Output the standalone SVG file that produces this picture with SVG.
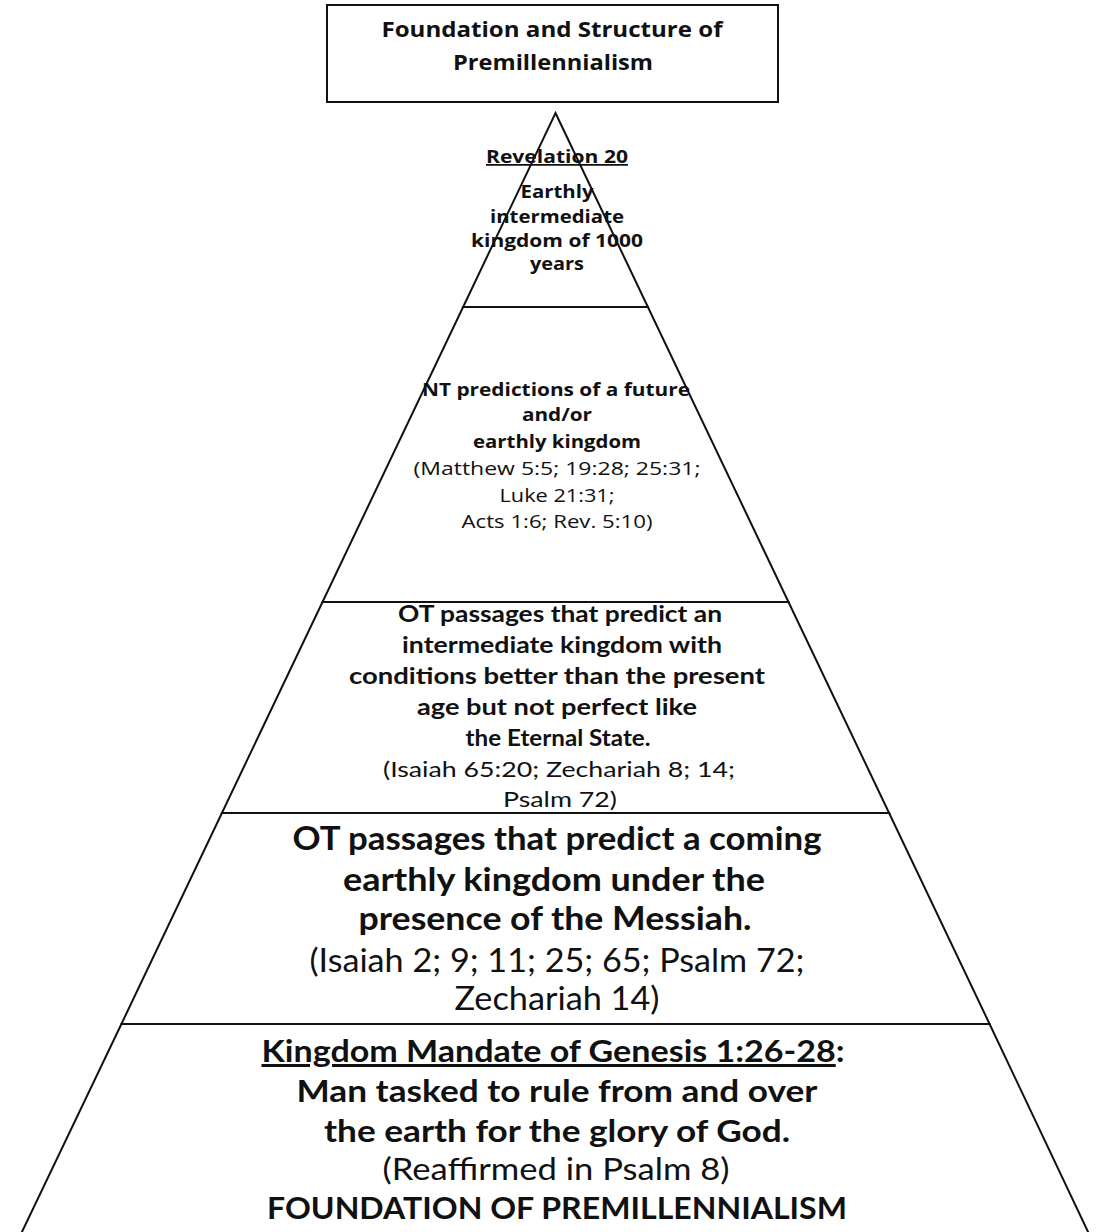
<svg xmlns="http://www.w3.org/2000/svg" width="1104" height="1232" viewBox="0 0 1104 1232">
<style>
.edge{fill:#fff;stroke:#111;stroke-width:2;stroke-linejoin:miter}
.t{fill:#111;text-anchor:middle}
.s{font-family:"Open Sans","DejaVu Sans",sans-serif}
.c{font-family:Lato,"Liberation Sans",sans-serif}
.b{font-weight:bold}
.r{font-weight:normal}
.u{text-decoration:underline}
</style>
<rect width="1104" height="1232" fill="#fff"/>
<g id="title">
<rect x="327" y="5" width="451" height="97" class="edge"/>
<text class="t s b" font-size="21.5" x="552" y="37" textLength="341" lengthAdjust="spacingAndGlyphs">Foundation and Structure of</text>
<text class="t s b" font-size="21.5" x="553" y="70" textLength="200" lengthAdjust="spacingAndGlyphs">Premillennialism</text>
</g>
<g id="layer-bottom">
<polygon class="edge" points="121.4,1024 989.6,1024 1090,1236 20,1236"/>
<text class="t c b" font-size="30" x="553" y="1062" textLength="583" lengthAdjust="spacingAndGlyphs"><tspan class="u">Kingdom Mandate of Genesis 1:26-28</tspan>:</text>
<text class="t c b" font-size="30" x="557" y="1102" textLength="521" lengthAdjust="spacingAndGlyphs">Man tasked to rule from and over</text>
<text class="t c b" font-size="30" x="557" y="1142" textLength="466" lengthAdjust="spacingAndGlyphs">the earth for the glory of God.</text>
<text class="t c r" font-size="30" x="556" y="1180" textLength="347" lengthAdjust="spacingAndGlyphs">(Reaffirmed in Psalm 8)</text>
<text class="t c b" font-size="30" x="557" y="1219" textLength="580" lengthAdjust="spacingAndGlyphs">FOUNDATION OF PREMILLENNIALISM</text>
</g>
<g id="layer-ot-coming">
<polygon class="edge" points="221.9,813 889.1,813 989.6,1024 121.4,1024"/>
<text class="t c b" font-size="32" x="557" y="850" textLength="529" lengthAdjust="spacingAndGlyphs">OT passages that predict a coming</text>
<text class="t c b" font-size="32" x="554" y="891" textLength="422" lengthAdjust="spacingAndGlyphs">earthly kingdom under the</text>
<text class="t c b" font-size="32" x="555" y="930" textLength="393" lengthAdjust="spacingAndGlyphs">presence of the Messiah.</text>
<text class="t c r" font-size="32" x="557" y="972" textLength="495" lengthAdjust="spacingAndGlyphs">(Isaiah 2; 9; 11; 25; 65; Psalm 72;</text>
<text class="t c r" font-size="32" x="557" y="1010" textLength="205" lengthAdjust="spacingAndGlyphs">Zechariah 14)</text>
</g>
<g id="layer-ot-intermediate">
<polygon class="edge" points="322.5,602 788.5,602 889.1,813 221.9,813"/>
<text class="t c b" font-size="22" x="560" y="622" textLength="324" lengthAdjust="spacingAndGlyphs">OT passages that predict an</text>
<text class="t c b" font-size="22" x="562" y="653" textLength="320" lengthAdjust="spacingAndGlyphs">intermediate kingdom with</text>
<text class="t c b" font-size="22" x="557" y="684" textLength="416" lengthAdjust="spacingAndGlyphs">conditions better than the present</text>
<text class="t c b" font-size="22" x="557" y="715" textLength="280" lengthAdjust="spacingAndGlyphs">age but not perfect like</text>
<text class="t c b" font-size="22" x="558" y="746" textLength="185" lengthAdjust="spacingAndGlyphs">the Eternal State.</text>
<text class="t c r" font-size="22" x="559" y="777" textLength="352" lengthAdjust="spacingAndGlyphs">(Isaiah 65:20; Zechariah 8; 14;</text>
<text class="t c r" font-size="22" x="560" y="807" textLength="114" lengthAdjust="spacingAndGlyphs">Psalm 72)</text>
</g>
<g id="layer-nt">
<polygon class="edge" points="463.1,307 647.9,307 788.5,602 322.5,602"/>
<text class="t s b" font-size="17.5" x="556" y="396" textLength="268" lengthAdjust="spacingAndGlyphs">NT predictions of a future</text>
<text class="t s b" font-size="17.5" x="557" y="421" textLength="70" lengthAdjust="spacingAndGlyphs">and/or</text>
<text class="t s b" font-size="17.5" x="557" y="448" textLength="168" lengthAdjust="spacingAndGlyphs">earthly kingdom</text>
<text class="t s r" font-size="17.5" x="557" y="475" textLength="287" lengthAdjust="spacingAndGlyphs">(Matthew 5:5; 19:28; 25:31;</text>
<text class="t s r" font-size="17.5" x="557" y="502" textLength="115" lengthAdjust="spacingAndGlyphs">Luke 21:31;</text>
<text class="t s r" font-size="17.5" x="557" y="528" textLength="191" lengthAdjust="spacingAndGlyphs">Acts 1:6; Rev. 5:10)</text>
</g>
<g id="layer-top">
<polygon class="edge" points="555.5,113 647.9,307 463.1,307" style="fill:none"/>
<text class="t s b u" font-size="17.5" x="557" y="163" textLength="142" lengthAdjust="spacingAndGlyphs">Revelation 20</text>
<text class="t s b" font-size="17.5" x="557" y="198" textLength="73" lengthAdjust="spacingAndGlyphs">Earthly</text>
<text class="t s b" font-size="17.5" x="557" y="223" textLength="134" lengthAdjust="spacingAndGlyphs">intermediate</text>
<text class="t s b" font-size="17.5" x="557" y="247" textLength="172" lengthAdjust="spacingAndGlyphs">kingdom of 1000</text>
<text class="t s b" font-size="17.5" x="557" y="270" textLength="54" lengthAdjust="spacingAndGlyphs">years</text>
</g>
</svg>
